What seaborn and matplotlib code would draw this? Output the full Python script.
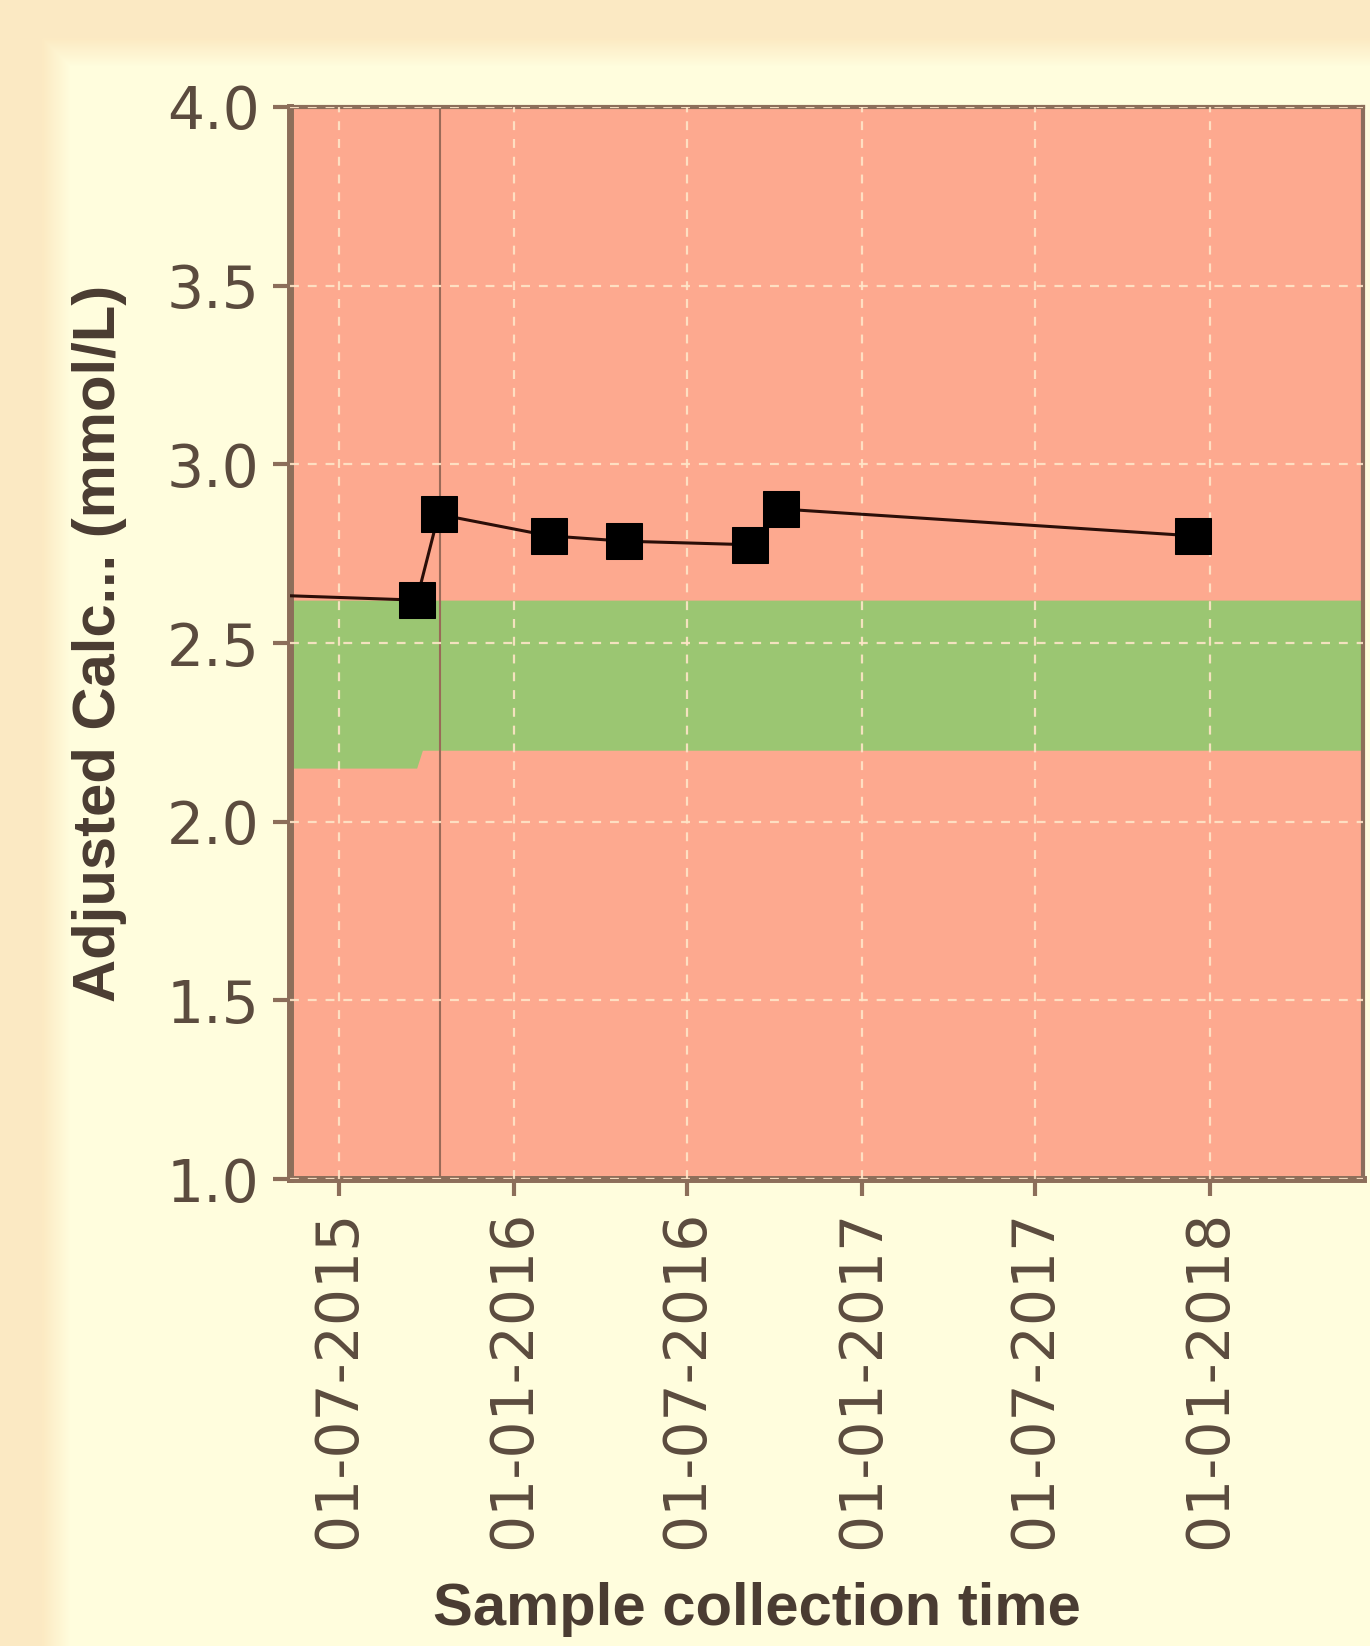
import numpy as np
import pandas as pd
import matplotlib
matplotlib.use("Agg")
import matplotlib.pyplot as plt
import matplotlib.dates as mdates
import seaborn as sns

sample_dates = ["2015-04-10", "2015-09-21", "2015-10-14", "2016-02-07", "2016-04-26",
                "2016-09-05", "2016-10-08", "2017-12-14"]
calcium = [2.635, 2.62, 2.86, 2.80, 2.785, 2.775, 2.875, 2.80]

# reference range (normal band)
range_dates = ["2015-04-10", "2015-09-21", "2015-09-27", "2018-08-01"]
range_low = [2.15, 2.15, 2.20, 2.20]
range_high = [2.62, 2.62, 2.62, 2.62]

marker_date = "2015-10-15"
x_limits = ["2015-05-11", "2018-06-11"]
y_ticks = [1.0, 1.5, 2.0, 2.5, 3.0, 3.5, 4.0]

df = pd.DataFrame({"date": pd.to_datetime(sample_dates), "value": calcium})
rng = pd.DataFrame({"date": pd.to_datetime(range_dates), "low": range_low, "high": range_high})

sns.set_style("white")
plt.rcParams["font.family"] = ["DejaVu Sans"]

fig = plt.figure(figsize=(13.7, 16.46), dpi=100)

# background: beige frame fading into cream panel
bg = fig.add_axes([0, 0, 1, 1], zorder=-10)
h, w = 1646, 1370
yy, xx = np.mgrid[0:h, 0:w]
d = np.minimum(xx - 42, yy - 38).astype(float)
t = np.clip(d / 28.0, 0, 1)[..., None]
beige = np.array([252, 234, 195]) / 255
cream = np.array([255, 253, 221]) / 255
bg.imshow(beige * (1 - t) + cream * t, aspect="auto", extent=[0, 1, 0, 1])
bg.set_axis_off()

ax = fig.add_axes([0.2117, 0.2837, 0.7832, 0.6513])
ax.set_facecolor("#FDA98F")

ax.fill_between(rng["date"], rng["low"], rng["high"], color="#9BC672", lw=0, zorder=1)
ax.axvline(pd.to_datetime(marker_date), color="#9A6A58", lw=1.5, zorder=2)

sns.lineplot(data=df, x="date", y="value", ax=ax, color="#2A0E08", lw=2.2,
             marker="s", markersize=26, markerfacecolor="black", markeredgecolor="black",
             zorder=3)

ax.set_xlim(pd.to_datetime(x_limits[0]), pd.to_datetime(x_limits[1]))
ax.set_ylim(1.0, 4.0)
ax.set_yticks(y_ticks)
ax.yaxis.set_major_formatter(matplotlib.ticker.FormatStrFormatter("%.1f"))
ax.xaxis.set_major_locator(mdates.MonthLocator(bymonth=[1, 7]))
ax.xaxis.set_major_formatter(mdates.DateFormatter("%d-%m-%Y"))

ax.grid(True, color="#FFE6C8", ls=(0, (4, 4)), lw=1.6, alpha=0.9)
ax.set_axisbelow(False)
for gl in ax.get_xgridlines() + ax.get_ygridlines():
    gl.set_zorder(1.5)

spine_col = "#8C6E5A"
for side, lw in [("left", 5), ("bottom", 5), ("top", 3), ("right", 3)]:
    ax.spines[side].set_color(spine_col)
    ax.spines[side].set_linewidth(lw)

ax.tick_params(axis="both", colors=spine_col, labelcolor="#5B4B3E", labelsize=42,
               length=12, width=3, direction="out")
ax.tick_params(axis="y", left=True, pad=10)
ax.tick_params(axis="x", bottom=True, labelrotation=90, pad=10)

lab_font = {"family": ["Liberation Sans"], "weight": "bold",
            "size": 43, "color": "#4A3C32"}
ax.set_xlabel("Sample collection time", va="center", **lab_font)
ax.set_ylabel("Adjusted Calc... (mmol/L)", va="center", **lab_font)
ax.xaxis.set_label_coords(0.435, -0.402)
ax.yaxis.set_label_coords(-0.178, 0.5)

fig.savefig("out.png", dpi=100)
